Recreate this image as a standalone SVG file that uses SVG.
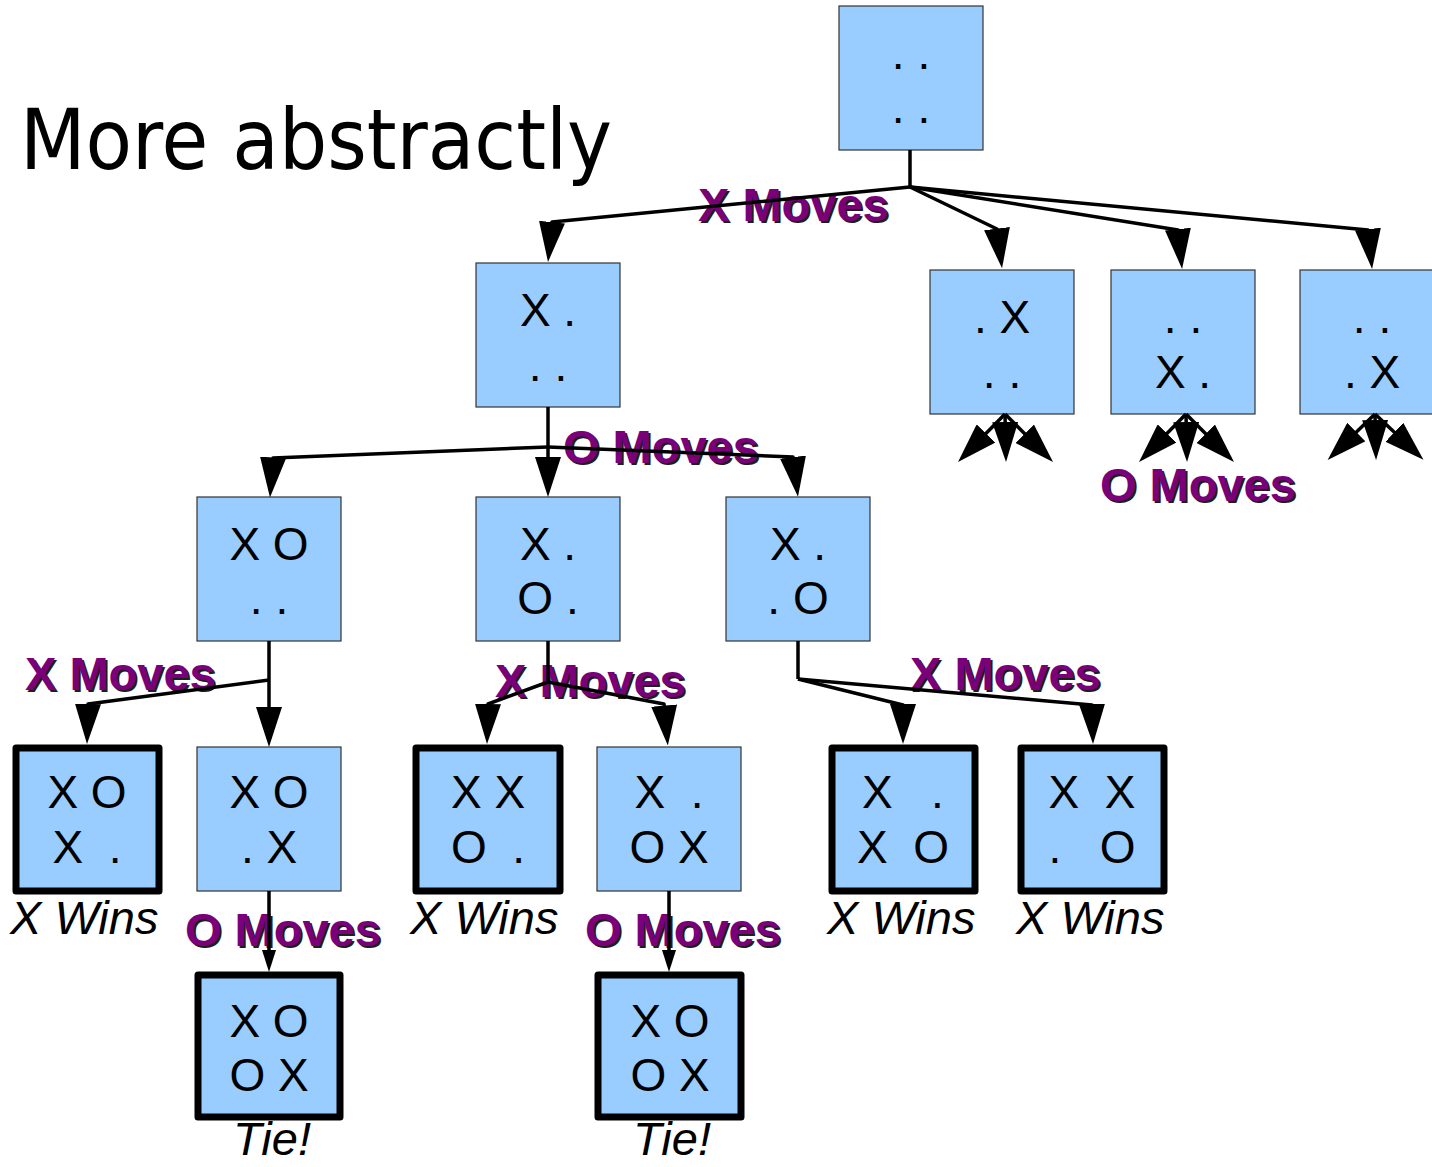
<svg xmlns="http://www.w3.org/2000/svg" width="1432" height="1167" viewBox="0 0 1432 1167">
<style>
.n rect{fill:#99ccff;stroke:#333;stroke-width:1.2}
.t rect{fill:#99ccff;stroke:#000;stroke-width:7;stroke-linejoin:round}
.g{font-family:"Liberation Sans",Arial,sans-serif;font-size:46px;text-anchor:middle;fill:#000;white-space:pre}
.c path{fill:none;stroke:#000;stroke-width:3.5;stroke-linejoin:round}
.lbl{font-family:"Liberation Sans",Arial,sans-serif;font-weight:bold;font-size:47px}
.sh{fill:#1e1e1e}
.fg{fill:#7a007a}
.cap{font-family:"Liberation Sans",Arial,sans-serif;font-style:italic;font-size:47px;fill:#000}
</style>
<defs>
<marker id="arr" markerUnits="userSpaceOnUse" viewBox="-20 -13 40 26" markerWidth="40" markerHeight="26" refX="0" refY="0" orient="auto"><path d="M-20,-13 L20,0 L-20,13 Z" fill="#000"/></marker>
<marker id="arrS" markerUnits="userSpaceOnUse" viewBox="-11 -7 22 14" markerWidth="22" markerHeight="14" refX="0" refY="0" orient="auto"><path d="M-11,-7 L11,0 L-11,7 Z" fill="#000"/></marker>
</defs>
<rect width="1432" height="1167" fill="#fff"/>
<text x="20" y="169" font-family="'DejaVu Sans Condensed','DejaVu Sans',sans-serif" font-stretch="condensed" font-size="84" textLength="592" lengthAdjust="spacingAndGlyphs" fill="#000">More abstractly</text>

<g id="root" class="n"><rect x="839" y="6" width="144" height="144"/><text class="g" x="911" y="69">. .</text><text class="g" x="911" y="123">. .</text></g>
<g id="n_x1" class="n"><rect x="476" y="263" width="144" height="144"/><text class="g" x="548" y="326">X .</text><text class="g" x="548" y="381">. .</text></g>
<g id="n_x2" class="n"><rect x="930" y="270" width="144" height="144"/><text class="g" x="1002" y="333">. X</text><text class="g" x="1002" y="388">. .</text></g>
<g id="n_x3" class="n"><rect x="1111" y="270" width="144" height="144"/><text class="g" x="1183" y="333">. .</text><text class="g" x="1183" y="388">X .</text></g>
<g id="n_x4" class="n"><rect x="1300" y="270" width="144" height="144"/><text class="g" x="1372" y="333">. .</text><text class="g" x="1372" y="388">. X</text></g>
<g id="n_xo1" class="n"><rect x="197" y="497" width="144" height="144"/><text class="g" x="269" y="560">X O</text><text class="g" x="269" y="614">. .</text></g>
<g id="n_xo2" class="n"><rect x="476" y="497" width="144" height="144"/><text class="g" x="548" y="560">X .</text><text class="g" x="548" y="614">O .</text></g>
<g id="n_xo3" class="n"><rect x="726" y="497" width="144" height="144"/><text class="g" x="798" y="560">X .</text><text class="g" x="798" y="614">. O</text></g>
<g id="n_w1" class="t"><rect x="16" y="748" width="143" height="143"/><text class="g" x="87" y="808">X O</text><text class="g" x="87" y="863" xml:space="preserve">X  .</text></g>
<g id="n_m1" class="n"><rect x="197" y="747" width="144" height="144"/><text class="g" x="269" y="808">X O</text><text class="g" x="269" y="863">. X</text></g>
<g id="n_w2" class="t"><rect x="416" y="748" width="144" height="143"/><text class="g" x="488" y="808">X X</text><text class="g" x="488" y="863" xml:space="preserve">O  .</text></g>
<g id="n_m2" class="n"><rect x="597" y="747" width="144" height="144"/><text class="g" x="669" y="808" xml:space="preserve">X  .</text><text class="g" x="669" y="863">O X</text></g>
<g id="n_w3" class="t"><rect x="832" y="748" width="143" height="143"/><text class="g" x="903" y="808" xml:space="preserve">X   .</text><text class="g" x="903" y="863" xml:space="preserve">X  O</text></g>
<g id="n_w4" class="t"><rect x="1021" y="748" width="143" height="143"/><text class="g" x="1092" y="808" xml:space="preserve">X  X</text><text class="g" x="1092" y="863" xml:space="preserve">.   O</text></g>
<g id="n_tie1" class="t"><rect x="198" y="975" width="142" height="142"/><text class="g" x="269" y="1037">X O</text><text class="g" x="269" y="1091">O X</text></g>
<g id="n_tie2" class="t"><rect x="598" y="975" width="143" height="142"/><text class="g" x="670" y="1037">X O</text><text class="g" x="670" y="1091">O X</text></g>

<g id="labels" class="lbl">
<text class="sh" x="700" y="223">X Moves</text><text class="fg" x="698" y="221">X Moves</text>
<text class="sh" x="565" y="465">O Moves</text><text class="fg" x="563" y="463">O Moves</text>
<text class="sh" x="1102" y="503">O Moves</text><text class="fg" x="1100" y="501">O Moves</text>
<text class="sh" x="27" y="692">X Moves</text><text class="fg" x="25" y="690">X Moves</text>
<text class="sh" x="497" y="699">X Moves</text><text class="fg" x="495" y="697">X Moves</text>
<text class="sh" x="912" y="692">X Moves</text><text class="fg" x="910" y="690">X Moves</text>
<text class="sh" x="187" y="948">O Moves</text><text class="fg" x="185" y="946">O Moves</text>
<text class="sh" x="587" y="948">O Moves</text><text class="fg" x="585" y="946">O Moves</text>
</g>

<g id="captions" class="cap">
<text x="10" y="934">X Wins</text>
<text x="410" y="934">X Wins</text>
<text x="827" y="934">X Wins</text>
<text x="1016" y="934">X Wins</text>
<text x="233" y="1155">Tie!</text>
<text x="633" y="1155">Tie!</text>
</g>

<g id="connectors" class="c">
<path d="M910,150 V187"/>
<path d="M910,187 L552,222 L550,242" marker-end="url(#arr)"/>
<path d="M910,187 L997,229 L999.5,248.5" marker-end="url(#arr)"/>
<path d="M910,187 L1178,230 L1180,249" marker-end="url(#arr)"/>
<path d="M910,187 L1368,230 L1370,249" marker-end="url(#arr)"/>
<path d="M548,407 V447"/>
<path d="M548,447 L273,458 L271.5,477.5" marker-end="url(#arr)"/>
<path d="M548,447 L548,477" marker-end="url(#arr)"/>
<path d="M548,447 L793,457 L795.5,477" marker-end="url(#arr)"/>
<path d="M269,641 V680"/>
<path d="M269,680 L88,704 L87.5,724" marker-end="url(#arr)"/>
<path d="M269,680 L269,727" marker-end="url(#arr)"/>
<path d="M548,641 V682"/>
<path d="M548,682 L488,704 L487.5,724" marker-end="url(#arr)"/>
<path d="M548,682 L664,704 L666,725.5" marker-end="url(#arr)"/>
<path d="M798,641 V679"/>
<path d="M798,679 L903,705 L903,724" marker-end="url(#arr)"/>
<path d="M798,679 L1092,705 L1092.5,724" marker-end="url(#arr)"/>
<path d="M269,891 V961" marker-end="url(#arrS)"/>
<path d="M669,891 V961" marker-end="url(#arrS)"/>
<path d="M1005,414 L972,447.7" marker-end="url(#arr)"/>
<path d="M1005,414 L1005.6,442" marker-end="url(#arr)"/>
<path d="M1005,414 L1038.9,447.9" marker-end="url(#arr)"/>
<path d="M1186,414 L1153,447.7" marker-end="url(#arr)"/>
<path d="M1186,414 L1186.6,442" marker-end="url(#arr)"/>
<path d="M1186,414 L1219.9,447.9" marker-end="url(#arr)"/>
<path d="M1375,414 L1342,446" marker-end="url(#arr)"/>
<path d="M1375,414 L1375.6,440" marker-end="url(#arr)"/>
<path d="M1375,414 L1408.9,446" marker-end="url(#arr)"/>
</g>
</svg>
